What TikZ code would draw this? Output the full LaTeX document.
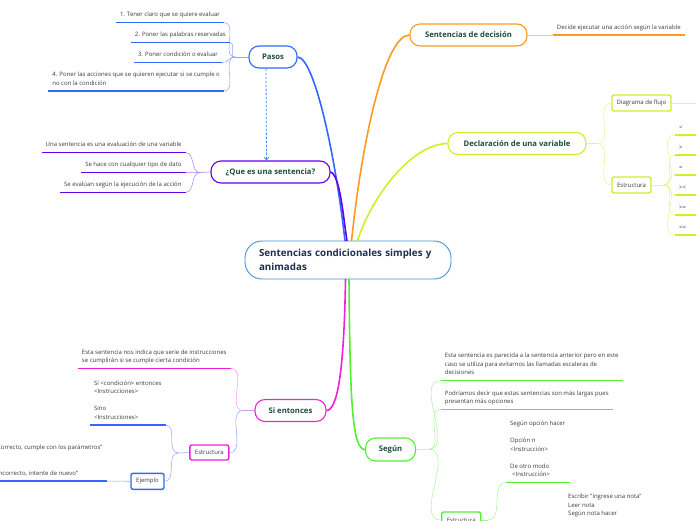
\documentclass[tikz,border=0pt]{standalone}
\usepackage{fontspec}
\setmainfont{Open Sans}
\usetikzlibrary{arrows.meta}
\definecolor{cblue}{HTML}{3366FF}
\definecolor{cblueL}{HTML}{8FA3FF}
\definecolor{cpurple}{HTML}{6200EE}
\definecolor{cpurpleL}{HTML}{A47BFF}
\definecolor{corange}{HTML}{FF9A1F}
\definecolor{corangeL}{HTML}{FFC680}
\definecolor{clime}{HTML}{CCF02A}
\definecolor{climeL}{HTML}{E2F590}
\definecolor{cmag}{HTML}{EE22DD}
\definecolor{cmagL}{HTML}{F59AEE}
\definecolor{clav}{HTML}{C8A0F8}
\definecolor{cgreen}{HTML}{55EE33}
\definecolor{cgreenL}{HTML}{A8F590}
\definecolor{ccentral}{HTML}{4A90D0}
\definecolor{ctitle}{HTML}{1F2F4F}
\definecolor{chead}{HTML}{1E4B3C}
\definecolor{cleaf}{HTML}{3A3A3A}
\definecolor{cdash}{HTML}{3A8EF0}
\begin{document}
\begin{tikzpicture}[x=1pt,y=-1pt,
  hbox/.style={draw, rounded corners=10pt, line width=1.1pt, fill=white,
    font=\fontsize{7.7}{9}\selectfont\bfseries, text=chead,
    minimum height=22pt, inner sep=0pt},
  sbox/.style={draw, rounded corners=2pt, line width=1.4pt, fill=white,
    font=\fontsize{6}{7}\selectfont, text=cleaf,
    minimum height=16pt, inner sep=0pt},
  leaf/.style={font=\fontsize{6}{8.5}\selectfont, text=cleaf,
    inner xsep=4pt, inner ysep=4pt, text depth=1.6pt},
  conn/.style={line width=0.5pt},
  ul/.style={line width=1.5pt},
  mainbr/.style={line width=1.6pt},
  dasharrow/.style={cdash, line width=0.8pt, dash pattern=on 2.5pt off 1.5pt,
    -{Straight Barb[length=2.5pt,width=4.5pt]}}
]
\path[use as bounding box] (0,0) rectangle (696,520);
\clip (0,0) rectangle (696,520);

% ---------- central and main nodes
\node[draw=ccentral, line width=0.9pt, rounded corners=17pt, fill=white,
  minimum width=206pt, minimum height=38pt, inner xsep=14pt,
  text width=178pt, align=left,
  font=\fontsize{9.8}{13.5}\selectfont\bfseries, text=ctitle] (center) at (348,260)
  {Sentencias condicionales simples y\\animadas};

\node[hbox, draw=cblue, minimum width=48pt] (pasos) at (273,57) {Pasos};
\node[hbox, draw=cpurple, minimum width=119pt] (que) at (270.5,172) {¿Que es una sentencia?};
\node[hbox, draw=corange, minimum width=117pt] (decision) at (468.5,35) {Sentencias de decisión};
\node[hbox, draw=clime, minimum width=138pt] (declar) at (517,143.5) {Declaración de una variable};
\node[hbox, draw=cmag, minimum width=71pt] (si) at (290.5,410.5) {Si entonces};
\node[hbox, draw=cgreen, minimum width=50pt, minimum height=23pt] (segun) at (390.5,449.5) {Según};

\coordinate (cB) at (345,241);
\coordinate (cP) at (347,241);
\coordinate (cO) at (351.5,241);
\coordinate (cY) at (357.5,241);
\coordinate (cM) at (345.5,279);
\coordinate (cG) at (349,279);

\draw[mainbr, cblue] (pasos.east) .. controls (315,58) and (336,160) .. (cB);
\draw[mainbr, cpurple] (que.east) .. controls (340,175) and (343,215) .. (cP);
\draw[mainbr, corange] (decision.west) .. controls (385,35) and (362,140) .. (cO);
\draw[mainbr, clime] (declar.west) .. controls (410,144) and (370,200) .. (cY);
\draw[mainbr, cmag] (cM) .. controls (344,375) and (337,410) .. (si.east);
\draw[mainbr, cgreen] (cG) .. controls (350,400) and (352,449.5) .. (segun.west);

\draw[dasharrow] ([xshift=-7pt]pasos.south) -- ([xshift=-4pt]que.north);

% ---------- Pasos
\node[leaf, anchor=south east] (p1) at (224,22.7) {1. Tener claro que se quiere evaluar};
\node[leaf, anchor=south east] (p2) at (230,42.7) {2. Poner las palabras reservadas};
\node[leaf, anchor=south east] (p3) at (222,62.7) {3. Poner condición o evaluar};
\node[leaf, anchor=south east, align=left] (p4) at (224,91)
  {4. Poner las acciones que se quieren ejecutar si se cumple o\\no con la condición};
\coordinate (pb) at (235,57);
\draw[conn, cblueL] (pasos.west) -- (pb);
\foreach \n in {p1,p2,p3,p4}{
  \draw[ul, cblue] (\n.south west) -- (\n.south east);
  \draw[conn, cblueL] (pb) to[out=180,in=0] (\n.south east);
}

% ---------- Que es una sentencia
\node[leaf, anchor=south east] (q1) at (185.7,152.7) {Una sentencia es una evaluación de una variable};
\node[leaf, anchor=south east] (q2) at (185.7,172.7) {Se hace con cualquier tipo de dato};
\node[leaf, anchor=south east] (q3) at (185.7,192.3) {Se evalúan según la ejecución de la acción};
\coordinate (qb) at (200,172.5);
\draw[conn, cpurpleL] (que.west) -- (qb);
\foreach \n in {q1,q2,q3}{
  \draw[ul, cpurple] (\n.south west) -- (\n.south east);
  \draw[conn, cpurpleL] (qb) to[out=180,in=0] (\n.south east);
}

% ---------- Sentencias de decision
\node[leaf, anchor=south west] (d1) at (552.7,35) {Decide ejecutar una acción según la variable};
\draw[ul, corange] (d1.south west) -- (d1.south east);
\draw[conn, corangeL] (decision.east) -- (d1.south west);

% ---------- Declaracion de una variable
\node[sbox, draw=clime, minimum width=59pt] (diag) at (641.5,103) {Diagrama de flujo};
\node[sbox, draw=clime, minimum width=39pt] (estrY) at (631.5,185) {Estructura};
\coordinate (yb) at (597,143.5);
\draw[conn, climeL] (declar.east) -- (yb);
\draw[conn, climeL] (yb) to[out=0,in=180] (diag.west);
\draw[conn, climeL] (yb) to[out=0,in=180] (estrY.west);
\coordinate (dgend) at (700,103);
\draw[conn, climeL] (diag.east) -- (dgend);
\coordinate (eb) at (664,185);
\draw[conn, climeL] (estrY.east) -- (eb);
\foreach \s/\yy [count=\i] in {</135,>/155,=/175,></195,>=/215,<=/235}{
  \node[leaf, anchor=south west, text width=24pt, align=left] (y\i) at (675,\yy) {\s};
  \draw[ul, clime] (y\i.south west) -- (y\i.south east);
  \draw[conn, climeL] (eb) to[out=0,in=180] (y\i.south west);
}

% ---------- Si entonces
\node[leaf, anchor=south east, align=left] (s1) at (230.7,368.3)
  {Esta sentencia nos indica que serie de instrucciones\\se cumplirán si se cumple cierta condición};
\node[sbox, draw=cmag, minimum width=39pt, minimum height=15pt] (estrM) at (209.3,452.5) {Estructura};
\node[leaf, anchor=south east, align=left] (s2) at (165.7,425)
  {Sí <condición> entonces\\<Instrucciones>\\[8.5pt]Sino\\<Instrucciones>};
\node[sbox, draw=cblue, minimum width=33pt] (ejemplo) at (147.5,481.3) {Ejemplo};
\node[leaf, anchor=south east, align=left] (ex) at (106.7,481)
  {Escribir "Correcto, cumple con los parámetros"\\[17.2pt]Escribir "Incorrecto, intente de nuevo"};
\coordinate (sb) at (243.3,410.5);
\draw[conn, clav] (si.west) -- (sb);
\draw[ul, cmag] (s1.south west) -- (s1.south east);
\draw[conn, cmagL] (sb) to[out=180,in=0] (s1.south east);
\draw[conn, cblueL] (sb) to[out=180,in=0] (estrM.east);
\coordinate (mb) at (178,453);
\draw[conn, cblueL] (estrM.west) -- (mb);
\draw[ul, cblue] (s2.south west) -- (s2.south east);
\draw[conn, cblueL] (mb) to[out=180,in=0] (s2.south east);
\draw[conn, cblueL] (mb) to[out=180,in=0] (ejemplo.east);
\draw[ul, cblue] (ex.south west) -- (ex.south east);
\draw[conn, cblueL] (ejemplo.west) -- (ex.south east);

% ---------- Segun
\node[leaf, anchor=south west, align=left] (g1) at (440.7,380.7)
  {Esta sentencia es parecida a la sentencia anterior pero en este\\caso se utiliza para evitarnos las llamadas escaleras de\\decisiones};
\node[leaf, anchor=south west, align=left] (g2) at (440.7,409.3)
  {Podríamos decir que estas sentencias son más largas pues\\presentan más opciones};
\node[sbox, draw=cgreen, minimum width=39pt] (estrG) at (461.2,520) {Estructura};
\coordinate (gb) at (428.3,449.3);
\draw[conn, cgreenL] (segun.east) -- (gb);
\foreach \n in {g1,g2}{
  \draw[ul, cgreen] (\n.south west) -- (\n.south east);
  \draw[conn, cgreenL] (gb) to[out=0,in=180] (\n.south west);
}
\draw[conn, cgreenL] (gb) to[out=0,in=180] (estrG.west);
\node[leaf, anchor=south west, align=left] (g4) at (506,482.7)
  {Según opción hacer\\[8.5pt]Opción n\\<Instrucción>\\[8.5pt]De otro modo\\\hspace*{2pt}<Instrucción>};
\node[leaf, anchor=north west, align=left] (g5) at (564,490)
  {Escribir "ingrese una nota"\\Leer nota\\Según nota hacer};
\coordinate (hb) at (488,520);
\draw[conn, cgreenL] (estrG.east) -- (hb);
\draw[ul, cgreen] (g4.south west) -- (g4.south east);
\draw[conn, cgreenL] (hb) to[out=0,in=180] (g4.south west);
\end{tikzpicture}
\end{document}
